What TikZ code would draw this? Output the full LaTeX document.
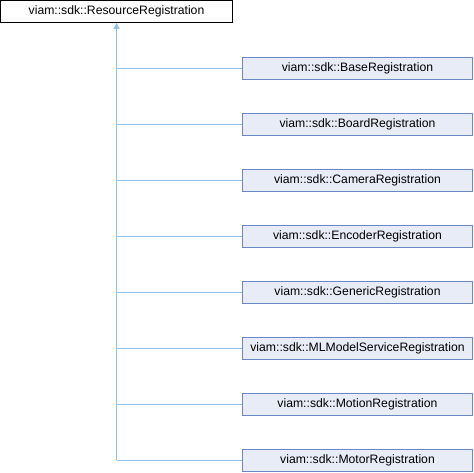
\documentclass[tikz,border=0pt]{standalone}
\usepackage{fontspec}
\setmainfont{Liberation Sans}
\usetikzlibrary{arrows.meta}
\definecolor{edgeblue}{HTML}{8CC4EC}
\definecolor{boxborder}{HTML}{6A88C4}
\definecolor{boxfill}{HTML}{E8ECF6}
\begin{document}
\begin{tikzpicture}[x=1pt,y=-1pt,
  base/.style={draw=black,fill=white,minimum width=232pt,minimum height=22pt,inner sep=0pt,font=\fontsize{12.2}{14}\selectfont,line width=0.8pt},
  child/.style={draw=boxborder,fill=boxfill,minimum width=230pt,minimum height=22pt,inner sep=0pt,font=\fontsize{12.2}{14}\selectfont,line width=0.8pt},
  inh/.style={draw=edgeblue,line width=0.9pt}]
\useasboundingbox (0,0) rectangle (474,472);
\node[base] (root) at (116.5,11.5) {viam::sdk::ResourceRegistration};
\node[child] (c1) at (357.5,68) {viam::sdk::BaseRegistration};
\node[child] (c2) at (357.5,124) {viam::sdk::BoardRegistration};
\node[child] (c3) at (357.5,180) {viam::sdk::CameraRegistration};
\node[child] (c4) at (357.5,236) {viam::sdk::EncoderRegistration};
\node[child] (c5) at (357.5,292) {viam::sdk::GenericRegistration};
\node[child] (c6) at (357.5,348) {viam::sdk::MLModelServiceRegistration};
\node[child] (c7) at (357.5,404) {viam::sdk::MotionRegistration};
\node[child] (c8) at (357.5,460) {viam::sdk::MotorRegistration};
\coordinate (corner) at (root.south |- c8.west);
\draw[inh,-{Triangle[open,length=6pt,width=6pt,fill=edgeblue]}] (corner) -- (root.south);
\foreach \i in {1,...,8} {
  \draw[inh] (root.south |- c\i.west) -- (c\i.west);
}
\end{tikzpicture}
\end{document}
